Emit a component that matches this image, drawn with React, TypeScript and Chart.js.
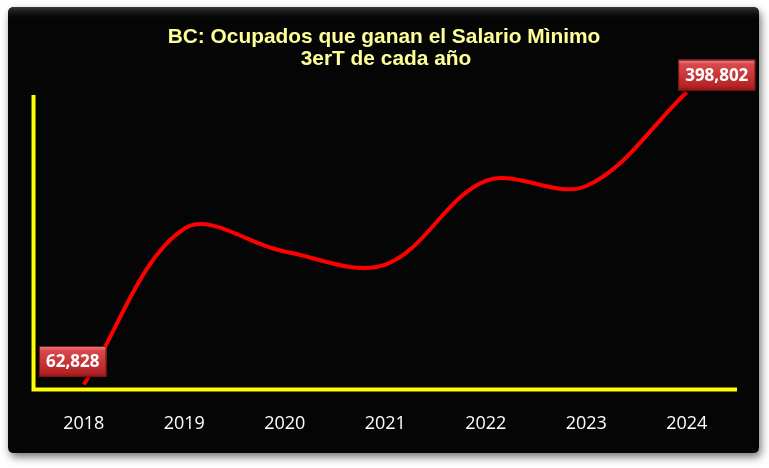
import React, { useEffect, useRef } from 'react';
import { Chart, registerables } from 'chart.js';

Chart.register(...registerables);

const years = ['2018', '2019', '2020', '2021', '2022', '2023', '2024'];
const ocupados = [62828, 242000, 215700, 200700, 296800, 291000, 398802];
const valueLabels = ['62,828', '', '', '', '', '', '398,802'];
const titleLines = ['BC: Ocupados que ganan el Salario Mìnimo', '3erT de cada año'];
const yMin = 57000;
const yMax = 399000;

function roundRect(ctx: CanvasRenderingContext2D, x: number, y: number, w: number, h: number, r: number) {
  ctx.beginPath();
  ctx.moveTo(x + r, y);
  ctx.lineTo(x + w - r, y);
  ctx.quadraticCurveTo(x + w, y, x + w, y + r);
  ctx.lineTo(x + w, y + h - r);
  ctx.quadraticCurveTo(x + w, y + h, x + w - r, y + h);
  ctx.lineTo(x + r, y + h);
  ctx.quadraticCurveTo(x, y + h, x, y + h - r);
  ctx.lineTo(x, y + r);
  ctx.quadraticCurveTo(x, y, x + r, y);
  ctx.closePath();
}

const decorPlugin = {
  id: 'decor',
  beforeDraw(chart: any) {
    const ctx = chart.ctx as CanvasRenderingContext2D;
    const W = chart.width;
    const H = chart.height;
    ctx.save();
    ctx.fillStyle = '#ffffff';
    ctx.fillRect(0, 0, W, H);
    ctx.shadowColor = 'rgba(0,0,0,0.55)';
    ctx.shadowBlur = 8;
    ctx.shadowOffsetX = 2;
    ctx.shadowOffsetY = 4;
    roundRect(ctx, 8, 7, 751, 446, 6);
    ctx.fillStyle = '#050505';
    ctx.fill();
    ctx.shadowColor = 'transparent';
    const g = ctx.createLinearGradient(0, 7, 0, 20);
    g.addColorStop(0, '#3a3a3a');
    g.addColorStop(1, 'rgba(5,5,5,0)');
    roundRect(ctx, 8, 7, 751, 14, 6);
    ctx.fillStyle = g;
    ctx.fill();
    ctx.fillStyle = '#FFFF99';
    ctx.textAlign = 'center';
    ctx.textBaseline = 'middle';
    ctx.font = 'bold 20px "Liberation Sans Narrow", "Liberation Sans", Arial, sans-serif';
    const w0 = ctx.measureText(titleLines[0]).width;
    const size = Math.min(22, 20 * 433 / w0);
    ctx.font = `bold ${size.toFixed(2)}px "Liberation Sans Narrow", "Liberation Sans", Arial, sans-serif`;
    ctx.fillText(titleLines[0], 384, 37);
    ctx.fillText(titleLines[1], 386, 59);
    ctx.restore();
  },
  beforeDatasetsDraw(chart: any) {
    const ctx = chart.ctx as CanvasRenderingContext2D;
    const { left, right, bottom } = chart.chartArea;
    ctx.save();
    ctx.strokeStyle = '#FFFF00';
    ctx.lineWidth = 4;
    ctx.lineCap = 'butt';
    ctx.beginPath();
    ctx.moveTo(left, 95);
    ctx.lineTo(left, bottom + 2);
    ctx.moveTo(left - 2, bottom);
    ctx.lineTo(right, bottom);
    ctx.stroke();
    ctx.restore();
  },
  afterDatasetsDraw(chart: any) {
    const ctx = chart.ctx as CanvasRenderingContext2D;
    const meta = chart.getDatasetMeta(0);
    ctx.save();
    ctx.font = 'bold 17px "Open Sans", sans-serif';
    ctx.textAlign = 'center';
    ctx.textBaseline = 'middle';
    meta.data.forEach((pt: any, i: number) => {
      const text = valueLabels[i];
      if (!text) return;
      const isFirst = i === 0;
      const cx = isFirst ? pt.x - 11 : pt.x + 30;
      const cy = isFirst ? pt.y - 23 : pt.y - 17;
      const tw = ctx.measureText(text).width;
      const bw = tw + 14;
      const bh = 31;
      const bx = cx - bw / 2;
      const by = cy - bh / 2;
      ctx.shadowColor = 'rgba(0,0,0,0.5)';
      ctx.shadowBlur = 3;
      ctx.shadowOffsetX = 1;
      ctx.shadowOffsetY = 2;
      const grad = ctx.createLinearGradient(0, by, 0, by + bh);
      grad.addColorStop(0, '#f08a8a');
      grad.addColorStop(0.15, '#d9494c');
      grad.addColorStop(0.85, '#b52427');
      grad.addColorStop(1, '#8e1517');
      ctx.fillStyle = grad;
      ctx.fillRect(bx, by, bw, bh);
      ctx.shadowColor = 'transparent';
      ctx.strokeStyle = '#7a1214';
      ctx.lineWidth = 1;
      ctx.strokeRect(bx + 0.5, by + 0.5, bw - 1, bh - 1);
      ctx.fillStyle = '#ffffff';
      ctx.fillText(text, cx, cy + 1);
    });
    ctx.restore();
  },
};

export default function App() {
  const ref = useRef<HTMLCanvasElement | null>(null);
  useEffect(() => {
    if (!ref.current) return;
    const chart = new Chart(ref.current, {
      type: 'line',
      data: {
        labels: years,
        datasets: [
          {
            data: ocupados,
            borderColor: '#FF0000',
            borderWidth: 4,
            tension: 0.35,
            pointRadius: 0,
            fill: false,
            clip: false as any,
          },
        ],
      },
      options: {
        responsive: false,
        animation: false,
        layout: { padding: { left: 33.5, right: 32, top: 92, bottom: 10.8 } },
        plugins: { legend: { display: false }, title: { display: false }, tooltip: { enabled: false } },
        scales: {
          x: {
            offset: true,
            grid: { display: false, drawTicks: false },
            border: { display: false },
            ticks: {
              color: '#ffffff',
              font: { family: '"Open Sans", sans-serif', size: 18 },
              padding: 23,
              maxRotation: 0,
            },
          },
          y: {
            display: false,
            min: yMin,
            max: yMax,
          },
        },
      },
      plugins: [decorPlugin],
    });
    return () => chart.destroy();
  }, []);
  return (
    <div style={{ position: 'fixed', left: 0, top: 0, width: 769, height: 468 }}>
      <canvas ref={ref} width={769} height={468} style={{ width: 769, height: 468, display: 'block' }} />
    </div>
  );
}
